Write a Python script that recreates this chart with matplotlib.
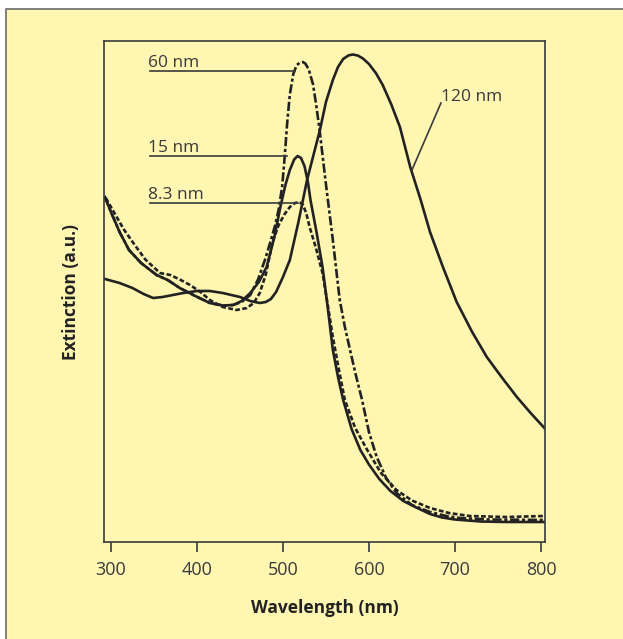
import numpy as np
import matplotlib.pyplot as plt
from matplotlib.patches import Rectangle

plt.rcParams['font.family'] = ['Open Sans', 'DejaVu Sans']

# extinction spectra (wavelength in nm, extinction in a.u.)
wl_120 = [293, 310, 325, 338, 349, 360, 384, 400, 415, 430, 450, 462, 473, 480, 486, 492,
          500, 508, 518, 528, 543, 550, 558, 564, 570, 576, 581, 587, 593, 600, 608, 616,
          626, 636, 648, 660, 671, 686, 702, 720, 737, 755, 772, 788, 804]
ext_120 = [52.6, 51.8, 50.8, 49.6, 48.8, 49.0, 49.8, 50.2, 50.2, 49.8, 49.0, 48.2, 47.8, 48.0,
           48.6, 50.0, 53.0, 56.4, 64.0, 72.4, 82.4, 88.0, 92.4, 95.0, 96.6, 97.3, 97.5, 97.3,
           96.7, 95.6, 93.8, 91.4, 87.5, 83.0, 75.0, 68.5, 62.0, 55.0, 48.0, 42.0, 37.0, 32.8,
           29.0, 25.8, 22.8]

wl_60 = [293, 300, 310, 321, 335, 353, 366, 380, 398, 415, 430, 442, 452, 462, 471, 479, 485,
         491, 495, 499, 502, 505, 508, 512, 516, 520, 523, 526, 530, 535, 539, 543, 550, 558,
         566, 572, 578, 585, 592, 600, 609, 620, 632, 650, 671, 690, 706, 740, 804]
ext_60 = [69.0, 66.0, 62.0, 58.4, 55.8, 53.4, 52.4, 50.8, 49.2, 47.8, 47.3, 47.4, 48.0, 49.4,
          52.5, 56.4, 59.8, 63.4, 66.5, 71.0, 77.0, 84.0, 89.5, 93.6, 95.4, 95.9, 96.0, 95.7,
          94.5, 91.5, 87.0, 81.8, 71.5, 60.4, 48.4, 43.0, 38.4, 33.2, 28.4, 22.0, 17.0, 12.8,
          9.8, 7.4, 6.0, 5.2, 4.8, 4.5, 4.4]

wl_15 = [293, 300, 310, 321, 335, 353, 366, 380, 398, 415, 430, 442, 452, 462, 472, 481, 490,
         497, 503, 508, 513, 517, 521, 525, 529, 532, 539, 546, 552, 558, 564, 570, 580, 590,
         600, 612, 625, 640, 655, 671, 685, 700, 730, 760, 804]
ext_15 = [69.0, 66.0, 62.0, 58.4, 55.8, 53.4, 52.4, 50.8, 49.2, 47.8, 47.3, 47.4, 48.2, 49.8,
          52.0, 55.0, 61.0, 67.0, 71.5, 74.4, 76.5, 77.2, 76.8, 75.2, 72.0, 68.4, 62.0, 55.0,
          47.0, 38.4, 33.0, 28.4, 22.5, 18.4, 15.5, 12.6, 10.2, 8.2, 6.9, 5.6, 4.9, 4.5, 4.1,
          4.0, 4.0]

wl_8 = [294, 305, 315, 326, 340, 357, 369, 380, 392, 404, 415, 430, 446, 458, 466, 473, 480,
        488, 495, 502, 508, 514, 519, 523, 527, 531, 538, 546, 552, 558, 565, 572, 584, 598,
        614, 632, 650, 671, 693, 717, 760, 804]
ext_8 = [68.8, 65.5, 62.5, 59.8, 56.5, 53.8, 53.4, 52.5, 51.4, 50.0, 48.4, 47.0, 46.4, 46.8,
         47.8, 49.8, 53.5, 60.0, 63.4, 65.6, 67.0, 67.8, 68.0, 67.5, 65.8, 63.0, 59.0, 53.8,
         47.5, 41.0, 34.5, 28.4, 22.8, 18.4, 13.8, 10.4, 8.3, 6.8, 5.8, 5.2, 5.0, 5.2]

xticks = [300, 400, 500, 600, 700, 800]

bg = '#fff6b2'
ink = '#222222'
grey = '#3a3a3a'

fig = plt.figure(figsize=(6.23, 6.39), dpi=100, facecolor='white')
# pale yellow panel with a grey border
fig.patches.append(Rectangle((6 / 623, -0.05), 1.0, 1 - 9 / 639 + 0.05, transform=fig.transFigure,
                             facecolor=bg, edgecolor='#6b6b6b', linewidth=1.2, zorder=-10))

ax = fig.add_axes([104 / 623, 1 - 542 / 639, 441 / 623, 501 / 639])
ax.set_facecolor(bg)
ax.set_zorder(5)

ax.plot(wl_120, ext_120, color=ink, lw=1.9, solid_joinstyle='round')
ax.plot(wl_15, ext_15, color=ink, lw=1.9, solid_joinstyle='round')
ax.plot(wl_60, ext_60, color=ink, lw=1.9, dashes=(3.5, 1.0, 1.2, 1.0))
ax.plot(wl_8, ext_8, color=ink, lw=1.9, dashes=(1.8, 0.9))

# curve labels with leader lines
lab_kw = dict(fontsize=12.5, color=grey)
ax.plot([345.3, 514.0], [94.2, 94.2], color=grey, lw=1.2)
ax.text(343.0, 95.0, '60 nm', va='baseline', ha='left', **lab_kw)
ax.plot([345.3, 504.7], [77.2, 77.2], color=grey, lw=1.2)
ax.text(343.0, 78.0, '15 nm', va='baseline', ha='left', **lab_kw)
ax.plot([345.3, 517.4], [67.8, 67.8], color=grey, lw=1.2)
ax.text(343.0, 68.6, '8.3 nm', va='baseline', ha='left', **lab_kw)
ax.plot([683.7, 650.0], [87.8, 74.4], color=grey, lw=1.2)
ax.text(684.0, 89.0, '120 nm', va='center', ha='left', **lab_kw)

ax.set_xlim(291.9, 804.7)
ax.set_ylim(0, 100.2)
ax.set_xticks(xticks)
ax.set_xticklabels([str(t) for t in xticks])
ax.set_yticks([])
ax.tick_params(axis='x', direction='out', length=7, width=1.2, color=grey,
               labelsize=13, labelcolor=grey, pad=7)
for s in ax.spines.values():
    s.set_color(grey)
    s.set_linewidth(1.2)

ax.set_xlabel('Wavelength (nm)', fontsize=12.5, fontweight='bold', color=ink, labelpad=14)
ax.set_ylabel('Extinction (a.u.)', fontsize=12.5, fontweight='bold', color=ink, labelpad=17)

fig.savefig('out.png', dpi=100, facecolor='white')
